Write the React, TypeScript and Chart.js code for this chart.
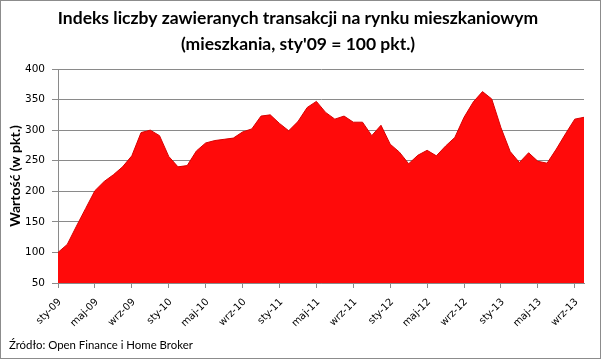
import React, { useEffect, useRef } from "react";
import { Chart, registerables } from "chart.js";

Chart.register(...registerables);

const MONTHS = ["sty", "lut", "mar", "kwi", "maj", "cze", "lip", "sie", "wrz", "paź", "lis", "gru"];
const YEARS = ["09", "10", "11", "12", "13"];
const MONTH_COUNT = 58;
const CATEGORIES: string[] = [];
for (let i = 0; i < MONTH_COUNT; i++) {
  CATEGORIES.push(`${MONTHS[i % 12]}-${YEARS[Math.floor(i / 12)]}`);
}

const VALUES = [
  100, 113, 143, 172, 201, 216, 227, 240, 258, 296, 300, 291,
  257, 240, 242, 266, 279, 283, 285, 287, 297, 302, 323, 325,
  311, 299, 314, 337, 347, 329, 318, 323, 313, 313, 291, 308,
  277, 264, 245, 259, 267, 258, 274, 288, 321, 346, 363, 351,
  304, 265, 247, 263, 249, 246, 269, 294, 318, 321,
];

const Y_MIN = 50;
const Y_MAX = 400;
const Y_STEP = 50;
const LABEL_EVERY = 4;

const TITLE_LINES = [
  "Indeks liczby zawieranych transakcji na rynku mieszkaniowym",
  "(mieszkania, sty'09 = 100 pkt.)",
];
const Y_TITLE = "Wartość (w pkt.)";
const SOURCE = "Źródło: Open Finance i Home Broker";

const GRID = "#8a8a8a";
const AXIS = "#8a8a8a";
const FILL = "#ff0a0a";
const EDGE = "#d80000";

const textPlugin = {
  id: "texts",
  beforeDraw(chart: any) {
    const ctx = chart.ctx;
    ctx.save();
    ctx.fillStyle = "#ffffff";
    ctx.fillRect(0, 0, chart.width, chart.height);
    ctx.restore();
  },
  afterDraw(chart: any) {
    const ctx = chart.ctx;
    ctx.save();
    ctx.fillStyle = "#000000";
    ctx.textAlign = "center";
    ctx.textBaseline = "middle";
    ctx.font = "bold 17.5px Lato";
    ctx.fillText(TITLE_LINES[0], 298, 18);
    ctx.fillText(TITLE_LINES[1], 298, 44);

    ctx.save();
    ctx.translate(15, 176);
    ctx.rotate(-Math.PI / 2);
    ctx.font = "bold 14px Lato";
    ctx.fillText(Y_TITLE, 0, 0);
    ctx.restore();

    const xs = chart.scales.x;
    ctx.font = "10px 'DejaVu Sans'";
    ctx.textAlign = "right";
    ctx.textBaseline = "middle";
    for (let i = 0; i < CATEGORIES.length; i += LABEL_EVERY) {
      const px = xs.getPixelForValue(i);
      ctx.save();
      ctx.translate(px + 2, xs.top + 17.5);
      ctx.rotate(-Math.PI / 4);
      ctx.fillText(CATEGORIES[i], 0, 0);
      ctx.restore();
    }

    ctx.textAlign = "left";
    ctx.font = "11.4px Lato";
    ctx.fillText(SOURCE, 9, 345);

    ctx.strokeStyle = "#8c8c8c";
    ctx.lineWidth = 1;
    ctx.strokeRect(0.5, 0.5, chart.width - 1, chart.height - 1);
    ctx.restore();
  },
};

export default function App() {
  const ref = useRef<HTMLCanvasElement | null>(null);

  useEffect(() => {
    if (!ref.current) return;
    const tickFont = { family: "DejaVu Sans", size: 10.5 };
    const chart = new Chart(ref.current, {
      type: "line",
      data: {
        labels: CATEGORIES,
        datasets: [
          {
            data: VALUES,
            fill: "start",
            backgroundColor: FILL,
            borderColor: EDGE,
            borderWidth: 1,
            pointRadius: 0,
            tension: 0,
          },
        ],
      },
      plugins: [textPlugin],
      options: {
        responsive: false,
        animation: false,
        devicePixelRatio: 1,
        layout: { padding: { top: 69, right: 17, bottom: 0, left: 0 } },
        plugins: {
          legend: { display: false },
          title: { display: false },
          tooltip: { enabled: false },
        },
        scales: {
          x: {
            type: "category",
            offset: false,
            z: 1,
            grid: {
              drawOnChartArea: false,
              drawTicks: true,
              tickLength: 5,
              color: (c: any) => (c.index % LABEL_EVERY === 0 ? AXIS : "rgba(0,0,0,0)"),
            },
            border: { display: true, color: AXIS },
            ticks: { display: false, autoSkip: false },
            afterFit: (s: any) => {
              s.height = 76;
            },
          },
          y: {
            min: Y_MIN,
            max: Y_MAX,
            grid: { color: GRID, tickLength: 6, drawTicks: true },
            border: { display: true, color: AXIS },
            ticks: { stepSize: Y_STEP, padding: 7, color: "#000", font: tickFont },
            afterFit: (s: any) => {
              s.width = 58;
            },
          },
        },
      },
    });
    return () => chart.destroy();
  }, []);

  return (
    <div style={{ position: "absolute", left: 0, top: 0, width: 601, height: 359 }}>
      <canvas ref={ref} width={601} height={359} />
    </div>
  );
}
